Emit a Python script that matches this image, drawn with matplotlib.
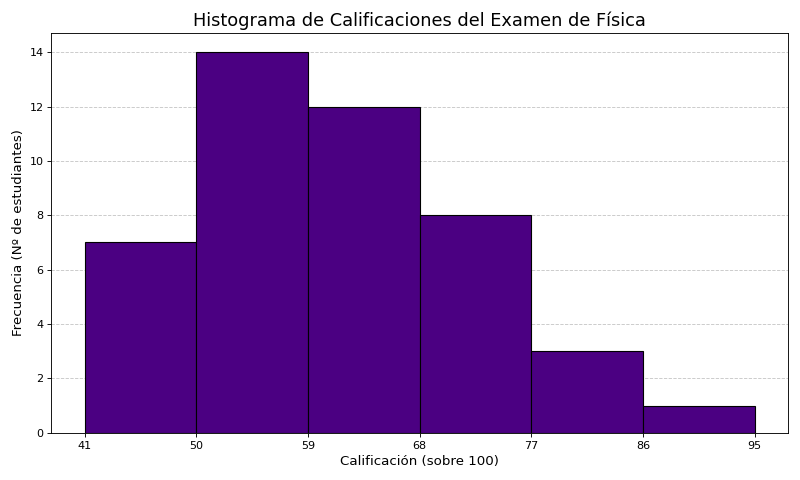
import numpy as np
import matplotlib
matplotlib.use("Agg")
from matplotlib import pyplot as plt

# bordes de los intervalos y frecuencias
bordes = [41, 50, 59, 68, 77, 86, 95]
frecuencias = [7, 14, 12, 8, 3, 1]

fig, ax = plt.subplots(figsize=(10, 6), dpi=80)

ax.hist(bordes[:-1], bins=bordes, weights=frecuencias,
        color="#4B0082", edgecolor="black", linewidth=1.0)

ax.set_xticks(bordes)
ax.set_title("Histograma de Calificaciones del Examen de Física", fontsize=16)
ax.set_xlabel("Calificación (sobre 100)", fontsize=12)
ax.set_ylabel("Frecuencia (Nº de estudiantes)", fontsize=12)
ax.grid(axis="y", linestyle="--", alpha=0.7)
ax.set_axisbelow(True)

plt.tight_layout()
plt.savefig("out.png")
